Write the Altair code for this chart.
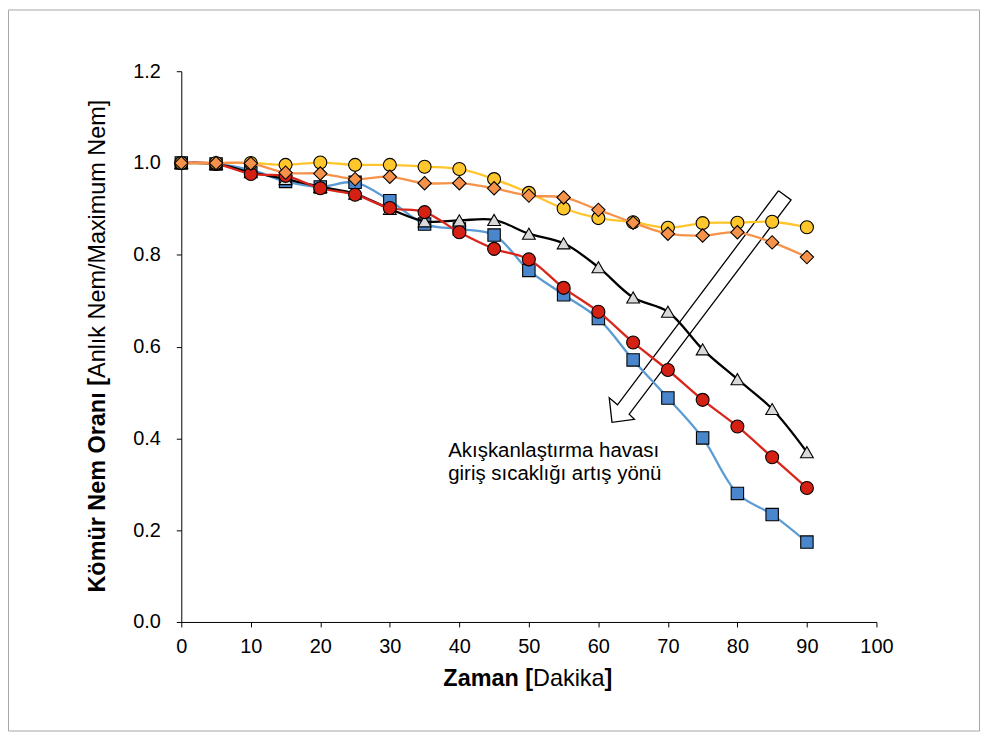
import altair as alt
import pandas as pd

# ---------------- data ----------------
minutes = [0, 5, 10, 15, 20, 25, 30, 35, 40, 45, 50, 55, 60, 65, 70, 75, 80, 85, 90]

blue_sq = [1.000, 0.998, 0.985, 0.960, 0.948, 0.958, 0.918, 0.867, 0.856, 0.843,
           0.766, 0.713, 0.661, 0.571, 0.488, 0.401, 0.280, 0.234, 0.174]
gray_tri = [1.000, 0.998, 0.980, 0.965, 0.948, 0.933, 0.900, 0.873, 0.875, 0.876,
            0.846, 0.825, 0.773, 0.707, 0.676, 0.594, 0.529, 0.464, 0.370]
red_circ = [1.000, 0.998, 0.976, 0.972, 0.945, 0.931, 0.902, 0.893, 0.849, 0.813,
            0.790, 0.728, 0.676, 0.609, 0.549, 0.484, 0.426, 0.359, 0.292]
yellow_circ = [1.000, 1.000, 1.000, 0.996, 1.001, 0.996, 0.996, 0.992, 0.987, 0.965,
               0.935, 0.901, 0.880, 0.871, 0.859, 0.869, 0.870, 0.872, 0.860]
orange_dia = [1.000, 1.000, 0.999, 0.979, 0.977, 0.965, 0.970, 0.956, 0.956, 0.945,
              0.929, 0.925, 0.898, 0.870, 0.846, 0.842, 0.849, 0.827, 0.795]

x_ticks = [0, 10, 20, 30, 40, 50, 60, 70, 80, 90, 100]
y_ticks = [0.0, 0.2, 0.4, 0.6, 0.8, 1.0, 1.2]

# hollow arrow outline, in data units (minutes, ratio)
arrow_x = [85.92, 87.72, 64.43, 65.19, 61.96, 61.56, 62.75, 85.92]
arrow_y = [0.9397, 0.9195, 0.4529, 0.4416, 0.4351, 0.4883, 0.4731, 0.9397]

annot_lines = ["Akışkanlaştırma havası", "giriş sıcaklığı artış yönü"]
annot_x = [38.4, 38.4]
annot_y = [0.360, 0.3085]

# series styling: (name, values, shape, line colour, fill colour, size)
series = [
    ("s1", blue_sq, "square", "#5b9bd5", "#4a86cc", 155),
    ("s2", gray_tri, "triangle-up", "#000000", "#d9d9d9", 165),
    ("s3", red_circ, "circle", "#d9261c", "#d42114", 170),
    ("s4", yellow_circ, "circle", "#ffc52b", "#ffc72c", 170),
    ("s5", orange_dia, "diamond", "#f7924a", "#f7924a", 180),
]

FONT = "Liberation Sans"

x_scale = alt.Scale(domain=[0, 100], nice=False, zero=False)
y_scale = alt.Scale(domain=[0, 1.2], nice=False, zero=False)

x_axis = alt.Axis(values=x_ticks, title=None, grid=False, domainColor="black",
                  domainWidth=1, tickColor="black", tickWidth=1, tickSize=5,
                  labelFont=FONT, labelFontSize=20, labelColor="black",
                  labelPadding=10, labelFlush=False)
y_axis = alt.Axis(values=y_ticks, format=".1f", title=None, grid=False,
                  domainColor="black", domainWidth=1, tickColor="black",
                  tickWidth=1, tickSize=5, labelFont=FONT, labelFontSize=20,
                  labelColor="black", labelPadding=16, labelFlush=False)

W, H = 698, 553
PAD_L, PAD_T, PAD_R, PAD_B = 174, 62, 104, 110

layers = []

# outer border of the figure
border = alt.Chart(pd.DataFrame({"k": [0]})).mark_rect(
    fillOpacity=0, stroke="#a6a6a6", strokeWidth=1
).encode(
    x=alt.value(-PAD_L + 0.5), x2=alt.value(W + PAD_R - 0.5),
    y=alt.value(-PAD_T + 0.5), y2=alt.value(H + PAD_B - 0.5),
)
layers.append(border)

# arrow annotation (drawn through the scales)
arrow_df = pd.DataFrame({"ax": arrow_x, "ay": arrow_y, "i": list(range(len(arrow_x)))})
arrow = alt.Chart(arrow_df).mark_line(
    color="black", strokeWidth=1.3, strokeJoin="miter"
).encode(
    x=alt.X("ax:Q", scale=x_scale, axis=x_axis),
    y=alt.Y("ay:Q", scale=y_scale, axis=y_axis),
    order="i:O",
)
layers.append(arrow)

for name, vals, shape, lcol, fcol, size in series:
    d = pd.DataFrame({"t": minutes, "v": vals})
    base = alt.Chart(d).encode(
        x=alt.X("t:Q", scale=x_scale, axis=x_axis),
        y=alt.Y("v:Q", scale=y_scale, axis=y_axis),
    )
    line = base.mark_line(interpolate="catmull-rom", color=lcol, strokeWidth=2.3)
    pts = base.mark_point(shape=shape, filled=True, fill=fcol, stroke="black",
                          strokeWidth=1.1, size=size, opacity=1)
    layers += [line, pts]

# annotation text
annot_df = pd.DataFrame({"tx": annot_x, "ty": annot_y, "label": annot_lines})
annot = alt.Chart(annot_df).mark_text(
    align="left", baseline="alphabetic", font=FONT, fontSize=20.5, color="black"
).encode(
    x=alt.X("tx:Q", scale=x_scale, axis=x_axis),
    y=alt.Y("ty:Q", scale=y_scale, axis=y_axis),
    text="label:N",
)
layers.append(annot)

# ----- axis titles with mixed weights -----
TF = 23.5
# x title: "Zaman [" bold, "Dakika" regular, "]" bold
em_bold1, em_reg, em_bold2 = 3.833, 3.056, 0.333
tot = (em_bold1 + em_reg + em_bold2) * TF
x_center = 530 - 182
x_base = 687 - 70
x0 = x_center - tot / 2
x_parts = [("Zaman [", "bold", x0),
           ("Dakika", "normal", x0 + em_bold1 * TF),
           ("]", "bold", x0 + (em_bold1 + em_reg) * TF)]
for txt, wt, px in x_parts:
    layers.append(
        alt.Chart(pd.DataFrame({"s": [txt]})).mark_text(
            align="left", baseline="alphabetic", font=FONT, fontSize=TF,
            fontWeight=wt, color="black"
        ).encode(text="s:N", x=alt.value(px), y=alt.value(x_base))
    )

# y title: "Kömür Nem Oranı [" bold, "Anlık Nem/Maximum Nem]" regular
em_yb, em_yr = 9.168, 11.89
ytot = (em_yb + em_yr) * TF
y_center = 346 - 70
y_start = y_center + ytot / 2
y_base_x = 105 - 182
y_parts = [("Kömür Nem Oranı [", "bold", y_start),
           ("Anlık Nem/Maximum Nem]", "normal", y_start - em_yb * TF)]
for txt, wt, py in y_parts:
    layers.append(
        alt.Chart(pd.DataFrame({"s": [txt]})).mark_text(
            align="left", baseline="alphabetic", font=FONT, fontSize=TF,
            fontWeight=wt, color="black", angle=270
        ).encode(text="s:N", x=alt.value(y_base_x), y=alt.value(py))
    )

chart = alt.layer(*layers).properties(
    width=W, height=H,
    autosize=alt.AutoSizeParams(type="none"),
    padding={"left": PAD_L, "top": PAD_T, "right": PAD_R, "bottom": PAD_B},
    background="white",
).configure_view(strokeWidth=0)

chart.save("out.html", embed_options={"renderer": "svg", "actions": False})
